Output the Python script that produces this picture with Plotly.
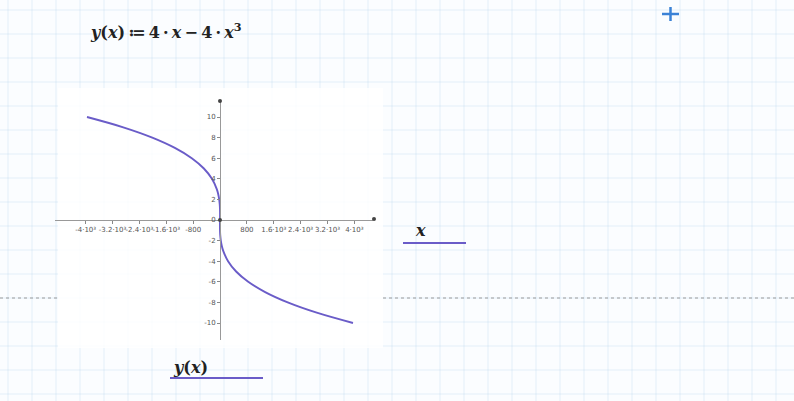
import plotly.graph_objects as go

# ---- data (vertical axis: x, horizontal axis: y(x) = 4x - 4x^3) ----
x_vals = [-10, -9, -8, -7, -6, -5, -4, -3, -2.5, -2, -1.5, -1, -0.5, 0,
          0.5, 1, 1.5, 2, 2.5, 3, 4, 5, 6, 7, 8, 9, 10]
y_vals = [3960, 2880, 2016, 1344, 840, 480, 240, 96, 52.5, 24, 7.5, 0, -1.5, 0,
          1.5, 0, -7.5, -24, -52.5, -96, -240, -480, -840, -1344, -2016, -2880, -3960]

h_tickvals = [-4000, -3200, -2400, -1600, -800, 800, 1600, 2400, 3200, 4000]
h_ticktext = ["-4·10³", "-3.2·10³", "-2.4·10³", "-1.6·10³", "-800",
              "800", "1.6·10³", "2.4·10³", "3.2·10³", "4·10³"]
v_tickvals = [-10, -8, -6, -4, -2, 0, 2, 4, 6, 8, 10]
v_ticktext = ["-10", "-8", "-6", "-4", "-2", "0", "2", "4", "6", "8", "10"]

W, H = 794, 401
def px(x):
    return x / W
def py(y):
    return 1 - y / H

# pixel geometry
x0_px, x_left_px, x_right_px = 220, 55, 373
y0_px, y_top_px, y_bot_px = 220, 100, 340
sx = 133 / 3960.0   # px per unit horizontal
sy = 103 / 10.0     # px per unit vertical

xr = [(x_left_px - x0_px) / sx, (x_right_px - x0_px) / sx]
yr = [-(y_bot_px - y0_px) / sy, (y0_px - y_top_px) / sy]

curve_color = "#6a5cc8"

fig = go.Figure()
fig.add_trace(go.Scatter(x=y_vals, y=x_vals, mode="lines",
                         line=dict(color=curve_color, width=1.9, shape="spline"),
                         hoverinfo="skip"))

shapes = []
# worksheet grid
grid_col = "rgba(170,200,235,0.28)"
gx = 8
while gx < W:
    shapes.append(dict(type="line", xref="paper", yref="paper", x0=px(gx), x1=px(gx),
                       y0=0, y1=1, line=dict(color=grid_col, width=1), layer="below"))
    gx += 24
gy = 10
while gy < H:
    shapes.append(dict(type="line", xref="paper", yref="paper", x0=0, x1=1,
                       y0=py(gy), y1=py(gy), line=dict(color=grid_col, width=1), layer="below"))
    gy += 24
# white plot region
shapes.append(dict(type="rect", xref="paper", yref="paper", x0=px(58), x1=px(383),
                   y0=py(348), y1=py(88), fillcolor="rgba(255,255,255,0.85)",
                   line=dict(width=0), layer="below"))
# page-break dashed line
for a, b in [(0, 58), (383, W)]:
    shapes.append(dict(type="line", xref="paper", yref="paper", x0=px(a), x1=px(b),
                       y0=py(298), y1=py(298),
                       line=dict(color="#9a9a9a", width=1, dash="dot"), layer="below"))
# label underlines
shapes.append(dict(type="line", xref="paper", yref="paper", x0=px(170), x1=px(263),
                   y0=py(378), y1=py(378), line=dict(color=curve_color, width=2)))
shapes.append(dict(type="line", xref="paper", yref="paper", x0=px(403), x1=px(466),
                   y0=py(243), y1=py(243), line=dict(color=curve_color, width=2)))
# blue cross
shapes.append(dict(type="line", xref="paper", yref="paper", x0=px(662), x1=px(679),
                   y0=py(14), y1=py(14), line=dict(color="#3b82d6", width=2.5)))
shapes.append(dict(type="line", xref="paper", yref="paper", x0=px(670.5), x1=px(670.5),
                   y0=py(7), y1=py(21), line=dict(color="#3b82d6", width=2.5)))
# axis end dots
for cx, cy in [(220, 101), (374, 219), (220, 220)]:
    shapes.append(dict(type="circle", xref="paper", yref="paper",
                       x0=px(cx - 2), x1=px(cx + 2), y0=py(cy + 2), y1=py(cy - 2),
                       fillcolor="#444", line=dict(width=0)))

serif = "DejaVu Serif, Liberation Serif, serif"
annotations = [
    dict(text="<b><i>y</i>(<i>x</i>)\u2009≔\u20094\u2009·\u2009<i>x</i>\u2009−\u20094\u2009·\u2009<i>x</i><sup>3</sup></b>",
         xref="paper", yref="paper", x=px(88), y=py(31), xanchor="left", yanchor="middle",
         showarrow=False, font=dict(family=serif, size=16, color="#222")),
    dict(text="<b><i>y</i>(<i>x</i>)</b>", xref="paper", yref="paper",
         x=px(171), y=py(367), xanchor="left", yanchor="middle",
         showarrow=False, font=dict(family=serif, size=16, color="#222")),
    dict(text="<b><i>x</i></b>", xref="paper", yref="paper",
         x=px(413), y=py(230), xanchor="left", yanchor="middle",
         showarrow=False, font=dict(family=serif, size=16, color="#222")),
]

tickfont = dict(family="DejaVu Sans, sans-serif", size=7, color="#555")
fig.update_layout(
    width=W, height=H,
    margin=dict(l=0, r=0, t=0, b=0),
    paper_bgcolor="#fbfdff", plot_bgcolor="rgba(0,0,0,0)",
    showlegend=False,
    shapes=shapes, annotations=annotations,
    xaxis=dict(domain=[px(x_left_px), px(x_right_px)], range=xr,
               anchor="free", position=py(y0_px),
               showgrid=False, zeroline=False, showline=True, linecolor="#999",
               linewidth=1, ticks="outside", ticklen=3, tickcolor="#888",
               tickvals=h_tickvals, ticktext=h_ticktext, tickfont=tickfont,
               tickangle=0, fixedrange=True),
    yaxis=dict(domain=[py(y_bot_px), py(y_top_px)], range=yr,
               anchor="free", position=px(x0_px),
               showgrid=False, zeroline=False, showline=True, linecolor="#999",
               linewidth=1, ticks="outside", ticklen=3, tickcolor="#888",
               tickvals=v_tickvals, ticktext=v_ticktext, tickfont=tickfont,
               fixedrange=True),
)

fig.write_html("out.html", config={"displayModeBar": False, "staticPlot": True},
               post_script="document.body.style.margin='0';document.body.style.padding='0';document.body.style.overflow='hidden';")
